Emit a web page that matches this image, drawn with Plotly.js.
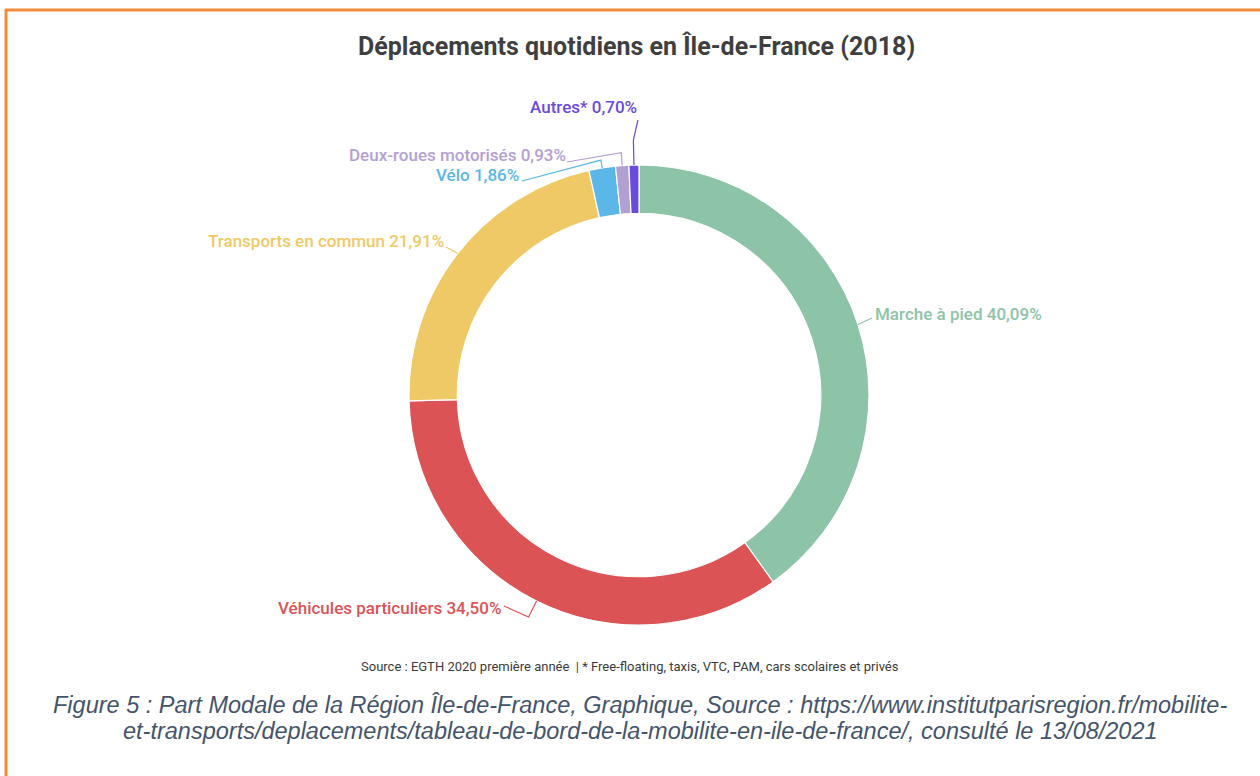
<!DOCTYPE html>
<html>
<head>
<meta charset="utf-8">
<script src="https://cdn.plot.ly/plotly-3.0.1.min.js"></script>
<style>html,body{margin:0;padding:0;background:#fff;}#chart{width:1260px;height:776px;}</style>
</head>
<body>
<div id="chart"></div>
<script>
// ---- data ----
const categories = ["Marche à pied", "Véhicules particuliers", "Transports en commun", "Vélo", "Deux-roues motorisés", "Autres*"];
const shares = [40.09, 34.50, 21.91, 1.86, 0.93, 0.70];
const shareLabels = ["40,09%", "34,50%", "21,91%", "1,86%", "0,93%", "0,70%"];
const sliceColors = ["#8DC3A7", "#DC5356", "#EEC966", "#5AB7E7", "#B3A0D3", "#6A4BDB"];

const titleText = "Déplacements quotidiens en Île-de-France (2018)";
const sourceText = "Source : EGTH 2020 première année  | * Free-floating, taxis, VTC, PAM, cars scolaires et privés";
const captionLines = [
  "Figure 5 : Part Modale de la Région Île-de-France, Graphique, Source : https://www.institutparisregion.fr/mobilite-",
  "et-transports/deplacements/tableau-de-bord-de-la-mobilite-en-ile-de-france/, consulté le 13/08/2021"
];

// ---- layout geometry (pixels) ----
const W = 1260, H = 776;
const cx = 639, cy = 395, R = 230;
const px = x => x / W;
const py = y => 1 - y / H;

// label placement: [textX, textY, anchor, leaderEndX, leaderEndY, elbowExtra]
const labelPos = [
  [873, 314, "left", 872, 318, 0],
  [503, 608, "right", 504, 606, 18],
  [446, 241, "right", 446, 247, 0],
  [521, 175, "right", 522, 181, 8],
  [568, 155, "right", 567, 162, 13],
  [639, 107, "right", 638, 120, 25]
];

const total = shares.reduce((a, b) => a + b, 0);
let cum = 0;
const shapes = [];
const annotations = [];
shares.forEach((v, i) => {
  const mid = (cum + v / 2) / total * 2 * Math.PI;
  cum += v;
  const lp = labelPos[i];
  const ex = cx + R * Math.sin(mid), ey = cy - R * Math.cos(mid);
  const pts = [[ex, ey]];
  if (lp[5] > 0) {
    pts.push([cx + (R + lp[5]) * Math.sin(mid), cy - (R + lp[5]) * Math.cos(mid)]);
  }
  pts.push([lp[3], lp[4]]);
  const path = pts.map((p, k) => (k ? "L" : "M") + px(p[0]).toFixed(5) + "," + py(p[1]).toFixed(5)).join(" ");
  shapes.push({type: "path", xref: "paper", yref: "paper", path: path, line: {color: sliceColors[i], width: 1.2}});
  annotations.push({
    xref: "paper", yref: "paper", x: px(lp[0]), y: py(lp[1]), xanchor: lp[2], yanchor: "middle",
    text: categories[i] + " " + shareLabels[i], showarrow: false,
    font: {family: "Roboto", size: 17, color: sliceColors[i], weight: 500}
  });
});

// orange frame
shapes.push({type: "line", xref: "paper", yref: "paper", x0: px(5), x1: 1, y0: py(10), y1: py(10), line: {color: "#F28B3B", width: 3}});
shapes.push({type: "line", xref: "paper", yref: "paper", x0: px(6), x1: px(6), y0: py(9), y1: 0, line: {color: "#F28B3B", width: 3}});

annotations.push({xref: "paper", yref: "paper", x: px(636), y: py(46), xanchor: "center", yanchor: "middle", showarrow: false,
  text: titleText, font: {family: "Roboto", size: 25, color: "#3f3f3f", weight: "bold"}});
annotations.push({xref: "paper", yref: "paper", x: px(630), y: py(666), xanchor: "center", yanchor: "middle", showarrow: false,
  text: sourceText, font: {family: "Roboto", size: 13, color: "#3a3a3a"}});
captionLines.forEach((t, k) => {
  annotations.push({xref: "paper", yref: "paper", x: px(640), y: py(705 + k * 26), xanchor: "center", yanchor: "middle", showarrow: false,
    text: t, font: {family: "Liberation Sans", size: 23.5, color: "#44546A", style: "italic"}});
});

const trace = {
  type: "pie",
  labels: categories,
  values: shares,
  sort: false,
  direction: "clockwise",
  rotation: 0,
  hole: 0.79,
  textinfo: "none",
  hoverinfo: "label+percent",
  marker: {colors: sliceColors, line: {color: "#ffffff", width: 1.2}},
  domain: {x: [px(cx - R), px(cx + R)], y: [py(cy + R), py(cy - R)]}
};

Plotly.newPlot("chart", [trace], {
  width: W, height: H,
  margin: {l: 0, r: 0, t: 0, b: 0},
  paper_bgcolor: "#ffffff",
  showlegend: false,
  shapes: shapes,
  annotations: annotations
}, {displayModeBar: false, staticPlot: true});
</script>
</body>
</html>
